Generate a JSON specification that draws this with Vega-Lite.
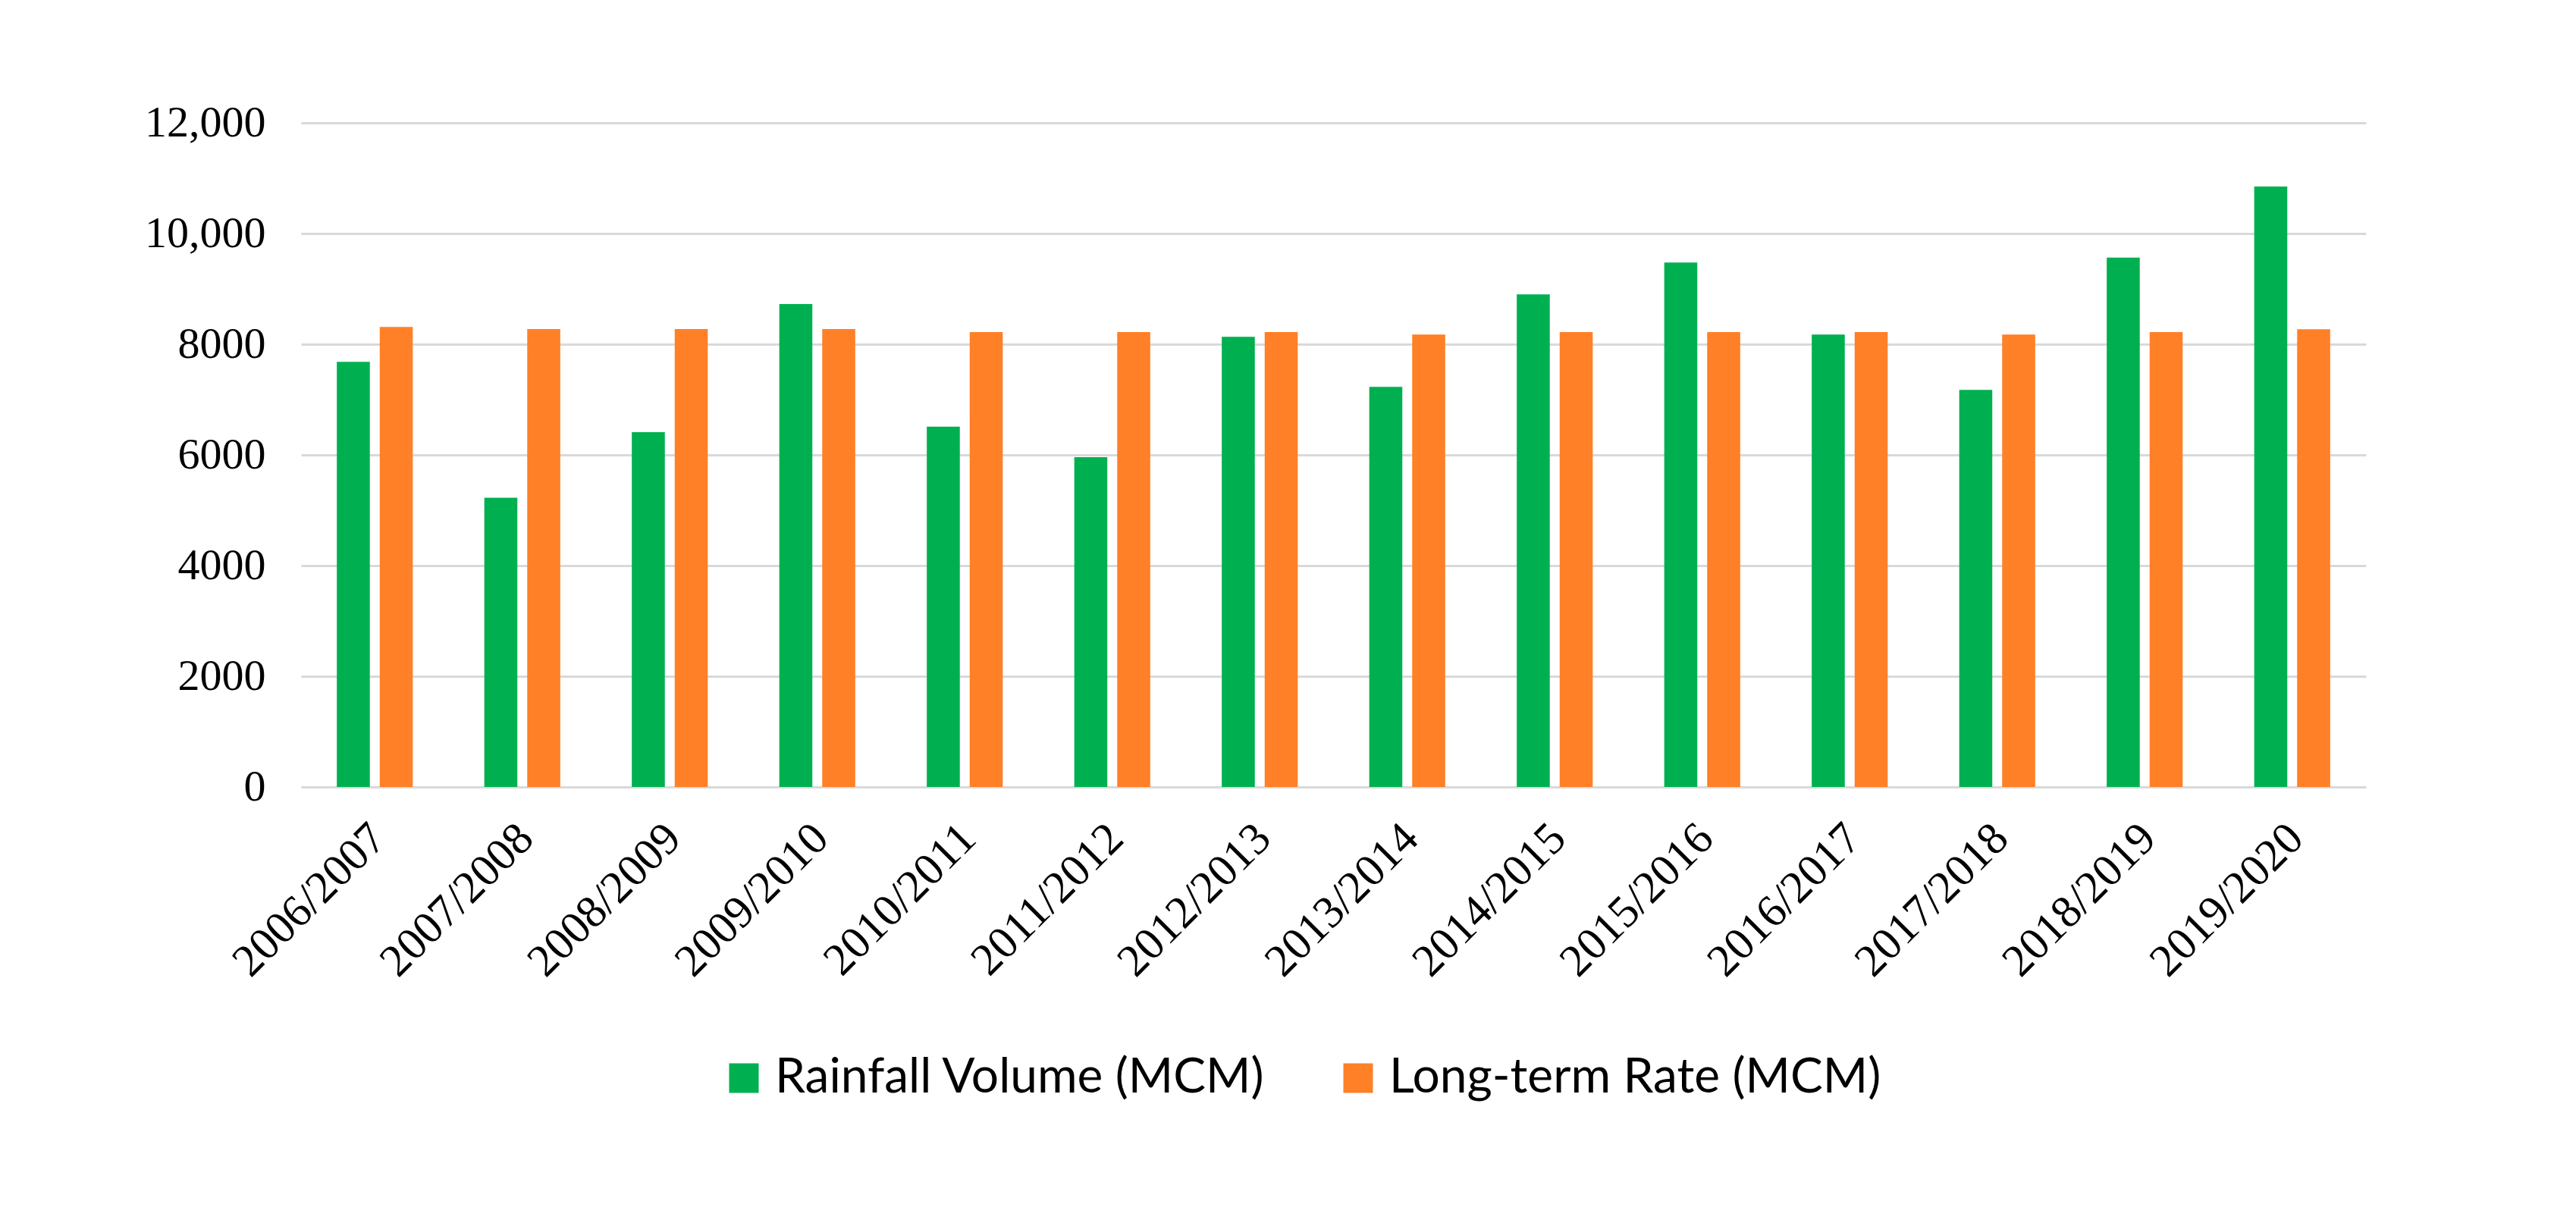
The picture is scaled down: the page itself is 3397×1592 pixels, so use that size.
{
  "$schema": "https://vega.github.io/schema/vega-lite/v6.json",
  "autosize": "none",
  "width": 2723,
  "height": 876,
  "padding": {"left": 397, "top": 162, "right": 277, "bottom": 554},
  "background": "white",
  "config": {"view": {"stroke": null}},
  "data": {
    "values": [
      {"season": "2006/2007", "series": "Rainfall Volume (MCM)", "value": 7680},
      {"season": "2006/2007", "series": "Long-term Rate (MCM)", "value": 8310},
      {"season": "2007/2008", "series": "Rainfall Volume (MCM)", "value": 5225},
      {"season": "2007/2008", "series": "Long-term Rate (MCM)", "value": 8275},
      {"season": "2008/2009", "series": "Rainfall Volume (MCM)", "value": 6410},
      {"season": "2008/2009", "series": "Long-term Rate (MCM)", "value": 8275},
      {"season": "2009/2010", "series": "Rainfall Volume (MCM)", "value": 8725},
      {"season": "2009/2010", "series": "Long-term Rate (MCM)", "value": 8275},
      {"season": "2010/2011", "series": "Rainfall Volume (MCM)", "value": 6510},
      {"season": "2010/2011", "series": "Long-term Rate (MCM)", "value": 8220},
      {"season": "2011/2012", "series": "Rainfall Volume (MCM)", "value": 5960},
      {"season": "2011/2012", "series": "Long-term Rate (MCM)", "value": 8220},
      {"season": "2012/2013", "series": "Rainfall Volume (MCM)", "value": 8135},
      {"season": "2012/2013", "series": "Long-term Rate (MCM)", "value": 8220},
      {"season": "2013/2014", "series": "Rainfall Volume (MCM)", "value": 7230},
      {"season": "2013/2014", "series": "Long-term Rate (MCM)", "value": 8175},
      {"season": "2014/2015", "series": "Rainfall Volume (MCM)", "value": 8900},
      {"season": "2014/2015", "series": "Long-term Rate (MCM)", "value": 8220},
      {"season": "2015/2016", "series": "Rainfall Volume (MCM)", "value": 9475},
      {"season": "2015/2016", "series": "Long-term Rate (MCM)", "value": 8220},
      {"season": "2016/2017", "series": "Rainfall Volume (MCM)", "value": 8175},
      {"season": "2016/2017", "series": "Long-term Rate (MCM)", "value": 8220},
      {"season": "2017/2018", "series": "Rainfall Volume (MCM)", "value": 7175},
      {"season": "2017/2018", "series": "Long-term Rate (MCM)", "value": 8175},
      {"season": "2018/2019", "series": "Rainfall Volume (MCM)", "value": 9565},
      {"season": "2018/2019", "series": "Long-term Rate (MCM)", "value": 8220},
      {"season": "2019/2020", "series": "Rainfall Volume (MCM)", "value": 10850},
      {"season": "2019/2020", "series": "Long-term Rate (MCM)", "value": 8270}
    ]
  },
  "mark": {"type": "bar"},
  "encoding": {
    "x": {
      "field": "season",
      "type": "nominal",
      "sort": null,
      "scale": {"paddingInner": 0.485, "paddingOuter": 0.2425},
      "axis": {
        "title": null,
        "labelAngle": -45,
        "labelAlign": "right",
        "labelBaseline": "middle",
        "labelFont": "Liberation Serif",
        "labelFontSize": 60,
        "labelColor": "#000000",
        "labelPadding": 58,
        "labelOffset": 5,
        "labelLimit": 1000,
        "ticks": false,
        "domain": false,
        "grid": false
      }
    },
    "xOffset": {
      "field": "series",
      "type": "nominal",
      "sort": ["Rainfall Volume (MCM)", "Long-term Rate (MCM)"],
      "scale": {"paddingInner": 0.23, "paddingOuter": 0}
    },
    "y": {
      "field": "value",
      "type": "quantitative",
      "scale": {"domain": [0, 12000], "nice": false},
      "axis": {
        "title": null,
        "values": [0, 2000, 4000, 6000, 8000, 10000, 12000],
        "labelExpr": "datum.value >= 10000 ? format(datum.value, ',') : format(datum.value, 'd')",
        "labelFont": "Liberation Serif",
        "labelFontSize": 58,
        "labelColor": "#000000",
        "labelPadding": 47,
        "ticks": false,
        "domain": false,
        "gridColor": "#d9d9d9",
        "gridWidth": 3
      }
    },
    "color": {
      "field": "series",
      "type": "nominal",
      "sort": ["Rainfall Volume (MCM)", "Long-term Rate (MCM)"],
      "scale": {
        "domain": ["Rainfall Volume (MCM)", "Long-term Rate (MCM)"],
        "range": ["#00B050", "#FF8026"]
      },
      "legend": {
        "title": null,
        "orient": "none",
        "legendX": 552,
        "legendY": 1228,
        "direction": "horizontal",
        "padding": 0,
        "symbolType": "square",
        "symbolSize": 1521,
        "symbolStrokeWidth": 0,
        "labelFont": "Lato",
        "labelFontSize": 64,
        "labelColor": "#000000",
        "labelOffset": 9,
        "labelLimit": 2000,
        "columnPadding": 90
      }
    }
  }
}
